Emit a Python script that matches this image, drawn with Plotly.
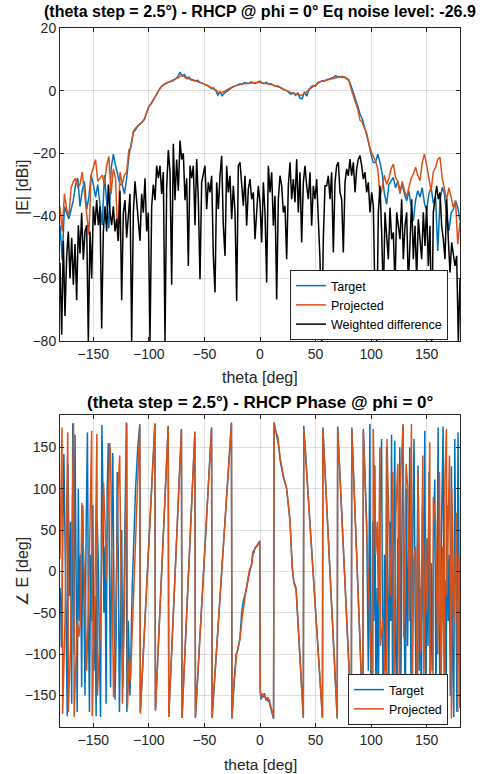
import numpy as np
import plotly.graph_objects as go

# ---------------- data: magnitude ----------------
theta_mag = np.arange(-180, 181, 2)
target_db = [
    -43, -54, -37, -39, -41, -38, -35, -30, -28, -37,
    -32, -29, -38, -34, -27, -30, -34, -30, -36, -43,
    -27, -35, -44, -25, -20.3, -24, -27, -30, -30, -33,
    -28, -21, -17, -13.3, -12.5, -11.2, -10.8, -10, -9.2, -7,
    -5, -4.3, -3, -2, -0.3, 0.8, 1.6, 2.1, 2.5, 2.7,
    2.9, 3.2, 3.8, 4.4, 5.9, 4.6, 5.2, 4.0, 4.3, 3.6,
    3.4, 3.1, 3.3, 2.6, 2.4, 2.1, 1.7, 1.4, 0.6, 0.9,
    0.1, -1.4, -0.4, -1.6, -0.8, -0.2, 0.5, 0.8, 1.2, 1.6,
    1.9, 2.2, 2.0, 2.6, 2.4, 2.3, 2.8, 2.5, 2.3, 2.7,
    3.0, 2.4, 2.2, 2.6, 2.0, 2.2, 1.8, 1.3, 1.5, 1.0,
    0.7, 0.2, 0.0, -0.5, -1.2, -0.6, -1.5, -0.8, -2.4, -2.6,
    -0.4, -1.8, 0.2, 1.2, 1.6, 1.4, 2.6, 2.8, 3.2, 3.0,
    3.5, 3.7, 3.9, 4.2, 4.8, 4.4, 4.5, 4.2, 4.4, 3.9,
    3.5, 1.5, -0.5, -2.5, -5, -7.5, -9, -11.5, -14, -17,
    -20.5, -23, -23, -20.3, -23, -26.7, -33, -36.3, -30, -29,
    -27.7, -31, -29, -32, -30, -33, -35.2, -32, -37, -41.6,
    -35, -32, -34, -31, -36, -38.4, -33, -30.9, -36, -34,
    -51.2, -35, -30.9, -33, -40, -44.8, -39, -38, -35.2, -37.3,
    -41.6,
]
projected_db = [
    -37, -45, -33, -38, -40, -31, -29, -28, -31, -30,
    -26, -32, -39, -46, -27, -24, -22, -29, -28, -27,
    -30, -24, -21, -33, -25, -28, -48, -26, -30, -27,
    -26, -19, -18, -13, -12, -11.5, -10.5, -10, -9, -7,
    -5, -4, -3, -1.8, -0.4, 0.7, 1.5, 2.0, 2.4, 2.8,
    3.0, 3.4, 3.8, 4.0, 4.6, 5.0, 4.4, 3.8, 3.9, 3.4,
    3.2, 3.0, 2.9, 2.5, 2.4, 2.0, 1.8, 1.2, 1.0, 0.5,
    0.2, -0.4, -0.7, -0.5, -0.3, 0.2, 0.6, 0.9, 1.3, 1.5,
    1.7, 2.0, 2.1, 2.3, 2.2, 2.4, 2.5, 2.4, 2.6, 2.7,
    2.6, 2.5, 2.4, 2.3, 2.2, 2.0, 1.7, 1.5, 1.3, 1.0,
    0.6, 0.3, 0.1, -0.3, -0.8, -0.9, -1.1, -1.2, -1.5, -1.4,
    -0.9, -0.5, 0.3, 0.9, 1.5, 1.8, 2.3, 2.8, 3.0, 3.2,
    3.4, 3.5, 3.7, 4.0, 4.2, 4.3, 4.4, 4.6, 4.2, 3.6,
    3.2, 0.5, -1.5, -3.5, -6, -9.5, -10, -12, -13.5, -17,
    -19.5, -21, -22.5, -25, -34, -31, -27, -30, -28, -25,
    -23.5, -27.7, -29, -33, -29, -32, -34, -31, -28, -26.7,
    -24.5, -27, -28.8, -23, -20.3, -24, -28, -32, -26, -24.5,
    -22, -21.3, -28, -31, -35, -31, -34, -37.3, -35.2, -49.1,
    -42,
]
theta_diff = np.arange(-180, 180.01, 1.5)
weighted_diff_db = [
    -55, -78, -48, -72, -53, -45, -60, -47, -62, -49,
    -67, -43, -52, -39, -54, -45, -43, -80, -45, -60,
    -37, -43, -35, -43, -37, -76, -45, -37, -45, -30,
    -39, -43, -37, -45, -41, -48, -32, -67, -39, -35,
    -47, -39, -33, -80, -39, -29, -35, -43, -48, -33,
    -39, -28, -45, -39, -80, -37, -30, -35, -24, -28,
    -24, -33, -26, -80, -31, -19, -26, -62, -17, -35,
    -22, -32, -16, -22, -20, -35, -28, -56, -24, -28,
    -24, -43, -21.9, -34.7, -60.3, -29.3, -26.1, -24, -37.9, -29.3,
    -32.5, -27.2, -52.8, -64.5, -29.3, -37.9, -27.2, -20.8, -43.2, -52.8,
    -24, -32.5, -27.2, -41.1, -30.4, -38.9, -67.2, -24, -22.9, -30.4,
    -36.8, -27.2, -43.2, -31.5, -28.3, -34.7, -32.5, -47.5, -36.8, -30.4,
    -35.7, -48.5, -29.3, -38.9, -61.3, -24, -32.5, -26.1, -43.2, -33.6,
    -66.7, -34.7, -27.2, -30.4, -38.9, -36.8, -53.9, -30.4, -22.9, -34.7,
    -28.3, -35.7, -21.9, -38.9, -26.1, -48.5, -29.3, -24, -30.4, -34.7,
    -26.1, -43.2, -30.4, -34.7, -28.3, -43, -54, -80, -47.5, -30.4,
    -30.4, -27.2, -34.7, -26.1, -51.7, -29.3, -24, -22.9, -32.5, -34.7,
    -51.7, -29.3, -25, -27.2, -21.9, -27.2, -22.9, -32.5, -25, -21.9,
    -20.8, -24, -28.3, -26.1, -32.5, -29.3, -38.9, -32.5, -36.8, -66.7,
    -80, -38.9, -30.4, -45.3, -66.7, -38.9, -45.3, -53.9, -37.4, -47.5,
    -45.3, -62.4, -38.9, -43.2, -47.5, -34.7, -53.9, -43.2, -38.9, -62.4,
    -47.5, -34.7, -53.9, -43.2, -60.3, -41.1, -47.5, -53.9, -38.9, -49.6,
    -36.8, -56, -43.2, -80, -38.9, -34.7, -30.4, -34.7, -32.5, -43.2,
    -47.5, -53.9, -34.7, -47.5, -58.1, -48.5, -51.7, -56, -52.8, -80,
    -60,
]

# ---------------- data: phase (polyline vertices) ----------------
theta_ph_target = [
    -180, -179.3, -178.8, -177.5, -176.5, -175.5, -174.5, -173.5, -172.8, -171.5,
    -170.5, -169.5, -168.5, -167.5, -166.5, -165.5, -164.5, -163.5, -162.5, -161.5,
    -160.5, -159.5, -158.5, -157.5, -156.5, -155.3, -154.5, -153.5, -152.5, -151.5,
    -150.5, -149.5, -148.5, -147.5, -146.5, -145.5, -144.5, -143.5, -142.3, -141.5,
    -140.5, -139.5, -138.5, -137.5, -136.5, -135.5, -134.5, -133.5, -132.5, -131.5,
    -130.5, -129.5, -128.5, -127.5, -126.5, -125.5, -124.5, -123.5, -122.5, -121.5,
    -120.3, -119.8, -118.5, -117, -115, -112, -110, -108.2,
    -107.7, -94.6, -94.1, -82.6, -82.1, -70.7, -70.2, -58.6, -58.1, -43.6, -43.1,
    -25.7, -25.2, -24, -21.5, -20, -18, -16.5, -15, -13.5, -12, -10, -8.5, -7.5,
    -6.5, -5.5, -4.5, -3, -0.3, 0.2, 1, 2, 3, 4, 5.4, 6.5, 7.5, 8.5, 9, 10.5,
    12.2, 12.7, 14, 15.5, 17, 18, 20, 21, 24, 27, 29, 30.5, 32.5, 35, 39,
    39.4, 56.2, 56.6, 69.5, 69.9, 82.2, 82.6, 92.6,
    93.0, 96, 97.5, 98.9, 99.5, 100.5, 101.5, 102.5, 103.4, 104.3,
    105.5, 106.5, 107.5, 108.5, 109.4, 110.3, 111, 112, 113, 113.9,
    114.8, 115.8, 116.8, 117.6, 118.4, 119.3, 120.3, 121.3, 122.2, 123.2,
    124, 124.8, 125.8, 126.8, 127.8, 128.8, 129.8, 130.8, 131.8, 132.8,
    133.8, 134.8, 135.7, 136.6, 137.6, 138.6, 139.6, 140.5, 141.4, 142.3,
    143.2, 144.2, 145.2, 146.2, 147.2, 148.3, 149.3, 150.2, 151.2, 152.2,
    153.2, 154.2, 155.2, 156.3, 157.3, 158.3, 159.3, 160.3, 161.2, 162.2,
    163.2, 164.2, 164.8, 165.6, 166.5, 167.4, 168.4, 169.4, 170.4, 171.3,
    172.3, 173.3, 174.4, 175.3, 176.2, 177.2, 178.2, 179.2, 180,
]
phase_target = [
    -20, -40, -92, 60, 142, 40, -60, -175, 130, -30,
    60, -160, 179, -100, 165, -20, -170, 100, -60, 20,
    -140, 80, -60, -150, 50, 168, -40, -170, 20, -60,
    80, -120, -30, -175, 60, 10, -90, -176, 177, 107,
    -50, 30, -160, 100, 155, -60, -140, 40, 143, -20,
    -155, -80, 120, 10, -170, -60, 50, -140, -30, 100,
    180, -170, -60, -150, -20, 100, 150, 178,
    -170, 179, -168, 176, -176, 172, -177, 169, -177, 174, -177,
    180, -178, -150, -100, -95, -80, -50, -35, -28, -20, -5, 5, 10,
    24, 22, 29, 30, 37, -146, -155, -148, -152, -147, -156, -152, -158, -155, -162, -170,
    -178, 180, 172, 160, 150, 135, 120, 114, 100, 60, 5, -14, -22, -82, -177,
    176, -177, 174, -178, 175, -177, 174, -177,
    172, 60, -120, 178, -100, -170, 60, -60, 128, -150,
    -20, -175, 40, 120, 160, -80, -178, 20, -120, 150,
    -40, -170, 60, -60, 165, -150, 30, 158, -100, -176,
    40, -30, 150, -140, 60, 176, -60, -175, 100, -90,
    20, 150, -110, -177, 60, 160, -40, -160, 20, 128,
    -120, -20, -175, 80, -60, 170, -150, 40, -90, 120,
    -176, 10, -120, 60, 111, -150, -40, 174, -60, -170,
    40, 170, 175, -100, -10, -170, 80, -60, 20, -150,
    127, -100, -176, 160, -20, -170, 168, -30, -165,
]
theta_ph_proj = [
    -180, -178.2, -177.6, -175.5, -173.0, -172.5, -170.5, -167.8, -167.3, -165.5,
    -164.5, -163, -161.8, -160.3, -159.2, -157.5, -156, -154.2, -151.5, -151,
    -148.5, -146.8, -146.3, -144, -140.8, -139.5, -138.3, -135.2, -134.5, -133,
    -131.8, -130, -127.8, -126.3, -125, -123.8, -122, -119.8, -119.3, -117.6,
    -116.6, -108.2,
    -107.7, -94.6, -94.1, -82.6, -82.1, -70.7, -70.2, -58.6, -58.1, -43.6, -43.1,
    -25.7, -25.2, -23.5, -21, -18, -16, -13.5, -12.5, -9.5, -7.5, -6, -4.5, -3, -0.3,
    0.2, 1.5, 3, 5.4, 7.5, 9, 10.5, 12.2, 12.7, 14, 16, 18, 21, 24, 27, 29, 30.5,
    32.5, 35, 39, 39.4, 56.2, 56.6, 69.5, 69.9, 82.2, 82.6, 92.6, 93.0,
    101.6, 101.9, 104, 105.5, 106.5, 107.9, 108.3, 110.6, 112, 113.9,
    114.3, 116, 117.5, 119.5, 120.5, 122.3, 124, 125.5, 126, 128.8,
    129.3, 131.5, 133, 134.5, 136.3, 136.8, 138.5, 140, 141.8, 142.2,
    144.7, 146.5, 147.5, 149, 150.5, 152.8, 153.3, 155.7, 156, 158,
    160, 161.5, 163, 164.5, 166, 166.4, 167.8, 168.3, 170.5, 172.3,
    172.7, 174.5, 176.8, 178, 179, 180,
]
phase_proj = [
    15, 174, -172, -60, 168, -170, -90, 179, -176, -110,
    -58, -79, -62, 83, 40, -30, -120, -30, 170, -175,
    -20, 166, -150, -80, 107, 60, -10, 155, 140, 10,
    -152, -60, 95, 140, -40, -160, -40, 179, -165, -105,
    -132, 177,
    -172, 178, -168, 175, -176, 170, -177, 168, -176, 172, -176,
    178, -176, -135, -100, -82, -55, -30, -22, 2, 8, 24, 28, 31, 36,
    -143, -153, -148, -154, -153, -159, -169, -176, 180, 170, 163, 138, 116, 100, 62, 5, -12,
    -20, -80, -176, 172, -176, 172, -177, 174, -176, 172, -176, 170,
    -176, 172, 20, 60, -40, 150, -90, -58, -100, -176,
    160, 40, -30, 120, -150, 70, 130, -176, 100, 178,
    -80, 130, 100, -60, 178, -170, 15, 30, -176, 120,
    -98, 140, -130, 40, -50, 156, -160, -176, 90, 60,
    -100, 120, -140, 30, -176, 110, 172, -30, 140, -178,
    100, -60, 71, -170, 20, -165,
]

x_ticks = [-150, -100, -50, 0, 50, 100, 150]
mag_ticks = [20, 0, -20, -40, -60, -80]
phase_ticks = [-150, -100, -50, 0, 50, 100, 150]

BLUE = "#0072BD"
ORANGE = "#D95319"
AXC = "#262626"
GRID = "rgba(38,38,38,0.15)"
FONT = "Liberation Sans, Arial, sans-serif"

fig = go.Figure()
fig.add_trace(go.Scatter(x=theta_mag, y=target_db, mode="lines", name="Target",
                         line=dict(color=BLUE, width=1.5), xaxis="x", yaxis="y", legend="legend"))
fig.add_trace(go.Scatter(x=theta_mag, y=projected_db, mode="lines", name="Projected",
                         line=dict(color=ORANGE, width=1.5), xaxis="x", yaxis="y", legend="legend"))
fig.add_trace(go.Scatter(x=theta_diff, y=weighted_diff_db, mode="lines", name="Weighted difference",
                         line=dict(color="#000000", width=1.5), xaxis="x", yaxis="y", legend="legend"))
fig.add_trace(go.Scatter(x=theta_ph_target, y=phase_target, mode="lines", name="Target",
                         line=dict(color=BLUE, width=1.5), xaxis="x2", yaxis="y2", legend="legend2"))
fig.add_trace(go.Scatter(x=theta_ph_proj, y=phase_proj, mode="lines", name="Projected",
                         line=dict(color=ORANGE, width=1.5), xaxis="x2", yaxis="y2", legend="legend2"))

ax_common = dict(showline=True, linecolor=AXC, linewidth=1, mirror="ticks",
                 ticks="inside", ticklen=4, tickcolor=AXC, showgrid=True,
                 gridcolor=GRID, gridwidth=1, zeroline=False, automargin=False,
                 tickfont=dict(family=FONT, size=14, color=AXC))

H_TOP, H_BOT = 28, 727
def py(p):
    return (H_BOT - p) / (H_BOT - H_TOP)
def px(p):
    return (p - 60) / 400

fig.update_layout(
    width=493, height=774, autosize=False,
    margin=dict(l=60, r=33, t=28, b=47),
    paper_bgcolor="white", plot_bgcolor="white",
    font=dict(family=FONT, color=AXC),
    xaxis=dict(domain=[0, 1], range=[-180, 180], tickvals=x_ticks, anchor="y", **ax_common),
    yaxis=dict(domain=[py(341), 1], range=[-80, 20], tickvals=mag_ticks, anchor="x", **ax_common),
    xaxis2=dict(domain=[0, 1], range=[-180, 180], tickvals=x_ticks, anchor="y2", **ax_common),
    yaxis2=dict(domain=[0, py(415)], range=[-188, 189], tickvals=phase_ticks, anchor="x2", **ax_common),
    legend=dict(x=px(448), y=py(270), xanchor="right", yanchor="top",
                bgcolor="white", bordercolor=AXC, borderwidth=1,
                font=dict(family=FONT, size=12.5, color="#000000"), tracegroupgap=0),
    legend2=dict(x=px(448), y=py(674), xanchor="right", yanchor="top",
                 bgcolor="white", bordercolor=AXC, borderwidth=1,
                 font=dict(family=FONT, size=12.5, color="#000000"), tracegroupgap=0),
    showlegend=True,
)

ann = [
    dict(text="<b>(theta step = 2.5°) - RHCP @ phi = 0° Eq noise level: -26.9</b>",
         x=px(260), y=py(11), font=dict(size=16, color="#000000")),
    dict(text="theta [deg]", x=0.5, y=py(377), font=dict(size=16, color=AXC)),
    dict(text="|E| [dBi]", x=px(22), y=py(188), textangle=-90, font=dict(size=16, color=AXC)),
    dict(text="<b>(theta step = 2.5°) - RHCP Phase @ phi = 0°</b>",
         x=0.5, y=py(402), font=dict(size=17, color="#000000")),
    dict(text="theta [deg]", x=0.5, y=py(764), font=dict(size=15.5, color=AXC)),
    dict(text="∠ E [deg]", x=px(22), y=py(572), textangle=-90, font=dict(size=16, color=AXC)),
]
for a in ann:
    fig.add_annotation(xref="paper", yref="paper", showarrow=False,
                       xanchor="center", yanchor="middle",
                       font_family=FONT, **{k: v for k, v in a.items()})

fig.write_html("out.html", config={"displayModeBar": False},
               post_script="document.body.style.margin='0px';document.body.style.overflow='hidden';")
